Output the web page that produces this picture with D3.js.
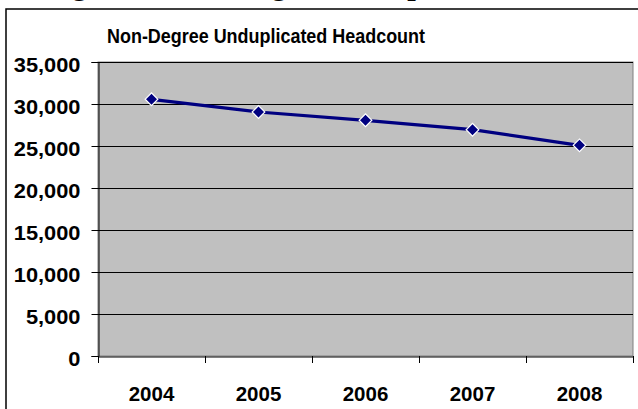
<!DOCTYPE html>
<html><head><meta charset="utf-8">
<script src="https://cdn.jsdelivr.net/npm/d3@7"></script>
<style>html,body{margin:0;padding:0;background:#fff;overflow:hidden}</style>
</head><body>
<svg id="c" width="638" height="409"></svg>
<script>
const years = ["2004","2005","2006","2007","2008"];
const headcount = [30560, 29050, 28060, 26940, 25080];
const yTicks = [0,5000,10000,15000,20000,25000,30000,35000];
const chartTitle = "Non-Degree Unduplicated Headcount";
const pageHeading = "Figure 8: Non-Degree Unduplicated Headcount";

const svg = d3.select("#c");
const m = {l:98, r:633, t:62, b:356};

// cut-off page heading (only descenders visible)
svg.append("text").attr("x",45).attr("y",-6)
  .attr("font-family","Liberation Serif, Times New Roman, serif")
  .attr("font-weight","bold").attr("font-size",30.5)
  .text(pageHeading);

// chart frame
svg.append("rect").attr("x",6).attr("y",9).attr("width",700).attr("height",500)
  .attr("fill","#fff").attr("stroke","#000").attr("stroke-width",1.5);

const x = d3.scaleBand().domain(years).range([m.l,m.r]);
const y = d3.scaleLinear().domain([0,35000]).range([m.b,m.t]);

svg.append("rect").attr("x",m.l).attr("y",m.t).attr("width",m.r-m.l).attr("height",m.b-m.t)
  .attr("fill","#C0C0C0").attr("stroke","#808080").attr("stroke-width",1);

// gridlines
svg.append("g").selectAll("line").data(yTicks.filter(d=>d>0)).join("line")
  .attr("x1",m.l).attr("x2",m.r).attr("y1",d=>Math.round(y(d))+0.5).attr("y2",d=>Math.round(y(d))+0.5)
  .attr("stroke","#000").attr("stroke-width",1);

// y axis
const ya = svg.append("g").attr("transform",`translate(${m.l+0.5},0)`)
  .call(d3.axisLeft(y).tickValues(yTicks).tickSize(7).tickPadding(0).tickFormat(d3.format(",")));
ya.select(".domain").attr("stroke","#000");
ya.selectAll(".tick line").attr("stroke","#000");
ya.selectAll(".tick text").remove();
ya.selectAll(".tick").append("text")
  .attr("text-anchor","end").attr("fill","#000")
  .attr("font-family","Liberation Sans, Arial, sans-serif").attr("font-weight","bold").attr("font-size",19.5)
  .attr("transform","translate(-18,9) scale(1.12,1)")
  .text(d=>d3.format(",")(d));

// x axis
const xa = svg.append("g").attr("transform",`translate(0,${m.b+0.5})`)
  .call(d3.axisBottom(x).tickSize(0).tickPadding(0));
xa.select(".domain").attr("stroke","#000");
xa.selectAll(".tick text").remove();
xa.selectAll(".tick").append("text")
  .attr("text-anchor","middle").attr("fill","#000").attr("y",44)
  .attr("font-family","Liberation Sans, Arial, sans-serif").attr("font-weight","bold").attr("font-size",20.5)
  .text(d=>d);
const edges = years.map(d=>x(d)).concat([x.range()[1]]);
svg.append("g").selectAll("line").data(edges).join("line")
  .attr("x1",d=>Math.round(d)+0.5).attr("x2",d=>Math.round(d)+0.5)
  .attr("y1",m.b).attr("y2",m.b+7).attr("stroke","#000");

// title
svg.append("text").attr("x",266).attr("y",43).attr("text-anchor","middle")
  .attr("font-family","Liberation Sans, Arial, sans-serif").attr("font-weight","bold").attr("font-size",20)
  .attr("textLength",318).attr("lengthAdjust","spacingAndGlyphs")
  .text(chartTitle);

// line
const cx = d=>x(d)+x.bandwidth()/2;
svg.append("path").datum(years.map((d,i)=>[cx(d),y(headcount[i])]))
  .attr("d",d3.line()).attr("fill","none").attr("stroke","#000080").attr("stroke-width",3.2);

svg.append("g").selectAll("path").data(years).join("path")
  .attr("transform",(d,i)=>`translate(${cx(d)},${y(headcount[i])}) rotate(45)`)
  .attr("d",d3.symbol(d3.symbolSquare,80))
  .attr("fill","#000080").attr("stroke","#fff").attr("stroke-width",1.2);
</script>
</body></html>
